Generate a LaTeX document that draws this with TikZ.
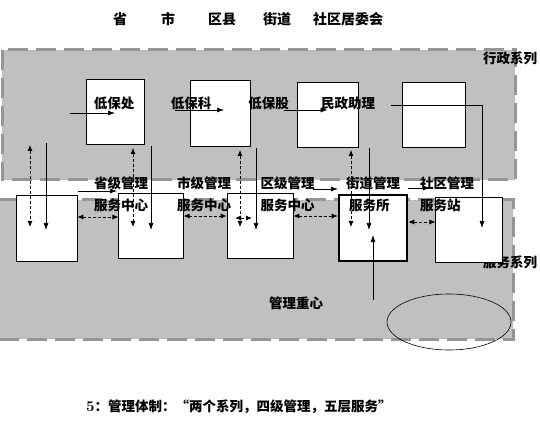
\documentclass[tikz,border=0pt]{standalone}
\usepackage{fontspec}
\newfontfamily\cjk{Noto Sans CJK SC}
\usetikzlibrary{arrows.meta}
\definecolor{bandgray}{RGB}{192,192,192}
\definecolor{dashgray}{RGB}{150,150,150}
\tikzset{
  band/.style={fill=bandgray, draw=dashgray, line width=3pt, dash pattern=on 20pt off 8pt},
  adminbox/.style={draw, fill=white, line width=0.6pt, inner sep=0pt},
  servbox/.style={adminbox},
  lbl/.style={inner sep=0pt, font=\cjk\bfseries\fontsize{13.5}{22}\selectfont, align=left},
  solidarr/.style={-{Latex[length=7pt,width=5pt]}, line width=0.7pt},
  dasharr/.style={{Latex[length=6pt,width=5pt]}-{Latex[length=6pt,width=5pt]}, line width=0.8pt, dash pattern=on 3pt off 2pt}
}
\begin{document}
\begin{tikzpicture}[x=1pt, y=-1pt]
  \useasboundingbox (0,0) rectangle (540,430);
  % two bands
  \draw[band] (2,50) rectangle (515,180);
  \draw[band] (-2,200) rectangle (513,339);
  % level headings
  \foreach \x/\t in {120/省, 168/市, 222/区县, 277/街道, 348/社区居委会}
    \node[lbl, font=\cjk\bfseries\fontsize{14}{16}\selectfont] at (\x,19) {\t};
  \node[lbl] (admin) at (510,58) {行政系列};
  \node[lbl] (serv) at (510,262) {服务系列};
  % admin boxes
  \node[adminbox, minimum width=58pt, minimum height=65pt] (b1) at (115,111.5) {};
  \node[adminbox, minimum width=60pt, minimum height=66pt] (b2) at (220,113) {};
  \node[adminbox, minimum width=61pt, minimum height=65pt] (b3) at (327.5,114.5) {};
  \node[adminbox, minimum width=63pt, minimum height=65pt] (b4) at (433.5,114.5) {};
  \node[lbl] (dbc) at (114,103) {低保处};
  \node[lbl] (dbk) at (191,103) {低保科};
  \node[lbl] (dbg) at (268.5,103) {低保股};
  \node[lbl] (mzzl) at (348,103) {民政助理};
  % service boxes
  \node[servbox, minimum width=61pt, minimum height=66pt] (s1) at (46.5,228) {};
  \node[servbox, minimum width=64.5pt, minimum height=65pt] (s2) at (151,225.5) {};
  \node[servbox, minimum width=66pt, minimum height=65pt] (s3) at (260,225.5) {};
  \node[servbox, line width=2.6pt, minimum width=68pt, minimum height=66pt] (s4) at (373,228) {};
  \node[servbox, minimum width=66.5pt, minimum height=65pt] (s5) at (469,229.5) {};
  \node[lbl] (sj) at (121,194) {省级管理\\服务中心};
  \node[lbl] (shj) at (204,194) {市级管理\\服务中心};
  \node[lbl] (qj) at (287.5,194) {区级管理\\服务中心};
  \node[lbl] (jd) at (373,194) {街道管理\\\ 服务所};
  \node[lbl] (sq) at (447,194) {社区管理\\服务站};
  \node[lbl] (zx) at (296,303) {管理重心};
  \draw[line width=0.6pt] (449,322) ellipse (62 and 28);
  \node[coordinate] (el) at (373,300) {};
  % arrow ends
  \coordinate (a1) at (70,113);
  \coordinate (a2) at (175,110);
  \coordinate (a3) at (284,110);
  \coordinate (a4) at (391,105);
  \coordinate (h1) at (78,191);
  \coordinate (h2) at (313,189);
  \coordinate (h3) at (408,188);
  % admin line
  \draw[solidarr] (a1) -- (a1 -| b1.center);
  \draw[solidarr] (a2) -- ++(49,0);
  \draw[solidarr] (a3) -- (a3 -| b3.center);
  \draw[solidarr] (a4) -| (482,228);
  % admin to service
  \foreach \d/\s/\t/\e in {30/46/145/s1, 133/151/148/s2, 240/256/150/s3, 351/369/150/s4} {
    \draw[dasharr] (\d,\t) -- (\d,227);
    \draw[solidarr] (\s,\t-2) -- (\s,230);
  }
  \draw[solidarr] (el) -- (373,235);
  % service line
  \draw[solidarr] (h1) -- ++(39,0);
  \draw[solidarr] (h2) -- ++(25,0);
  \draw[solidarr] (h3) -- ++(22,0);
  \draw[dasharr] ([yshift=11pt]s1.east) -- ([yshift=8.5pt]s2.west);
  \draw[dasharr] ([yshift=9.5pt]s2.east) -- ([yshift=9.5pt]s3.west);
  \draw[dasharr] ([yshift=9.5pt]s3.east) -- ([yshift=12pt]s4.west);
  \draw[dasharr] ([yshift=6pt]s4.east) -- ([yshift=7.5pt]s5.west);
  \draw[dasharr] (235,218) -- (252,218);
  % caption
  \node[lbl, anchor=west] (cap) at (86,407) {{\rmfamily\bfseries\fontsize{15}{16}\selectfont 5}：管理体制：“两个系列，四级管理，五层服务”};
\end{tikzpicture}
\end{document}
